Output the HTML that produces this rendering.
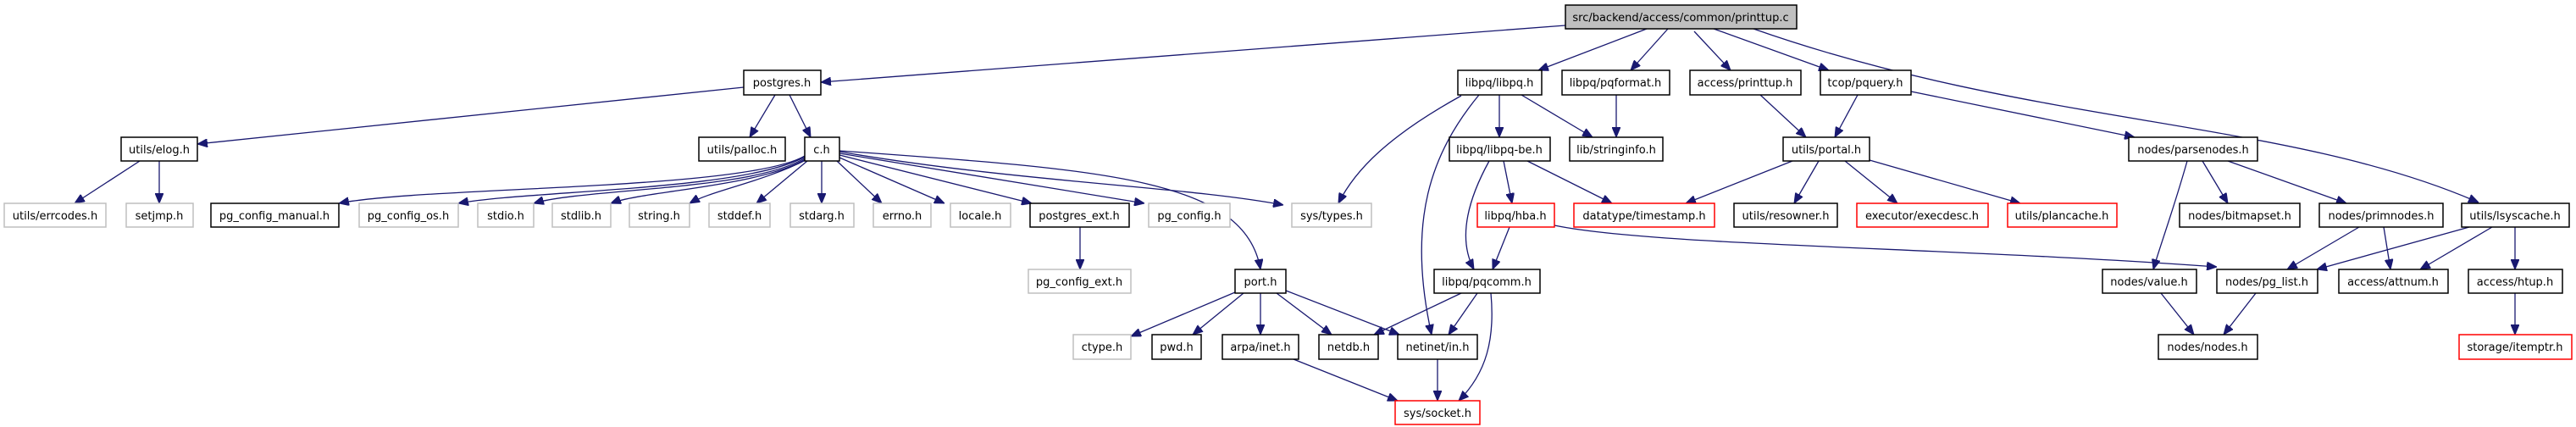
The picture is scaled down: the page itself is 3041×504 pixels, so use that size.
<!DOCTYPE html>
<html><head><meta charset="utf-8"><style>
html,body{margin:0;padding:0;background:#fff;}
svg{display:block}
text{font-family:"DejaVu Sans","Liberation Sans",sans-serif;font-size:13px;text-anchor:middle;fill:#000}
.b{fill:#fff;stroke:#000;stroke-width:1.5}
.g{fill:#fff;stroke:#bfbfbf;stroke-width:1.5}
.r{fill:#fff;stroke:#ff0000;stroke-width:1.5}
.e{fill:none;stroke:#191970;stroke-width:1.3;marker-end:url(#a)}
</style></head><body>
<svg width="3041" height="504" viewBox="0 0 3041 504" xmlns="http://www.w3.org/2000/svg">
<defs><marker id="a" markerUnits="userSpaceOnUse" markerWidth="12" markerHeight="10" refX="12" refY="5" orient="auto"><path d="M0,0 L12,5 L0,10 z" fill="#191970" stroke="#191970"/></marker></defs>
<!-- edges -->
<path class="e" d="M1848,30 L969,97"/>
<path class="e" d="M1944,34 L1816,83"/>
<path class="e" d="M1969,34 L1925,83"/>
<path class="e" d="M2000,37 L2043,83"/>
<path class="e" d="M2023,34 L2159,83"/>
<path class="e" d="M2070,34 C2400,150 2700,140 2926,239"/>
<path class="e" d="M878,103 L233,170"/>
<path class="e" d="M915,112 L885,162"/>
<path class="e" d="M932,112 L957,162"/>
<path class="e" d="M165,190 L88,240"/>
<path class="e" d="M188,190 L188,240"/>
<path class="e" d="M950,184 C880,225 500,220 400,240"/>
<path class="e" d="M950,185 C880,225 620,225 541,240"/>
<path class="e" d="M951,186 C890,225 690,222 630,240"/>
<path class="e" d="M952,187 C900,220 760,225 721,240"/>
<path class="e" d="M953,188 C900,215 840,225 814,240"/>
<path class="e" d="M953,190 L893,240"/>
<path class="e" d="M970,190 L970,240"/>
<path class="e" d="M988,190 L1041,240"/>
<path class="e" d="M991,186 L1115,240"/>
<path class="e" d="M991,183 L1218,240"/>
<path class="e" d="M991,181 L1351,240"/>
<path class="e" d="M991,179 C1200,215 1400,220 1515,242"/>
<path class="e" d="M991,178 C1300,200 1470,210 1488,318"/>
<path class="e" d="M1725,113 C1640,160 1600,200 1580,240"/>
<path class="e" d="M1746,112 C1690,180 1660,260 1690,395"/>
<path class="e" d="M1770,112 L1770,162"/>
<path class="e" d="M1796,112 L1880,162"/>
<path class="e" d="M1908,112 L1908,162"/>
<path class="e" d="M1775,190 L1785,240"/>
<path class="e" d="M1803,190 L1903,240"/>
<path class="e" d="M1758,190 C1725,250 1725,290 1740,318"/>
<path class="e" d="M1782,268 L1762,318"/>
<path class="e" d="M1835,266 C1950,290 2300,292 2617,315"/>
<path class="e" d="M1725,346 L1622,395"/>
<path class="e" d="M1744,346 L1710,395"/>
<path class="e" d="M1760,346 C1765,400 1755,440 1722,473"/>
<path class="e" d="M1458,345 L1335,397"/>
<path class="e" d="M1468,346 L1408,395"/>
<path class="e" d="M1488,346 L1488,395"/>
<path class="e" d="M1507,346 L1572,395"/>
<path class="e" d="M1518,343 L1652,395"/>
<path class="e" d="M1527,424 L1650,473"/>
<path class="e" d="M1697,424 L1697,473"/>
<path class="e" d="M1275,268 L1275,318"/>
<path class="e" d="M2078,112 L2132,162"/>
<path class="e" d="M2193,112 L2166,162"/>
<path class="e" d="M2256,108 L2520,162"/>
<path class="e" d="M2116,190 L1990,240"/>
<path class="e" d="M2147,190 L2118,240"/>
<path class="e" d="M2178,190 L2240,240"/>
<path class="e" d="M2207,189 L2385,240"/>
<path class="e" d="M2582,190 C2565,250 2550,290 2542,318"/>
<path class="e" d="M2600,190 L2630,240"/>
<path class="e" d="M2630,190 L2770,240"/>
<path class="e" d="M2785,268 L2700,318"/>
<path class="e" d="M2814,268 L2822,318"/>
<path class="e" d="M2915,268 L2735,318"/>
<path class="e" d="M2942,268 L2857,318"/>
<path class="e" d="M2969,268 L2969,318"/>
<path class="e" d="M2551,346 L2590,395"/>
<path class="e" d="M2663,346 L2625,395"/>
<path class="e" d="M2969,346 L2969,395"/>
<!-- nodes -->
<rect x="1848" y="6" width="273" height="28" fill="#bfbfbf" stroke="#000" stroke-width="1.5"/><text x="1984" y="25">src/backend/access/common/printtup.c</text>
<rect class="b" x="878" y="83" width="91" height="29"/><text x="923" y="102">postgres.h</text>
<rect class="b" x="1721" y="83" width="99" height="29"/><text x="1770" y="102">libpq/libpq.h</text>
<rect class="b" x="1844" y="83" width="127" height="29"/><text x="1907" y="102">libpq/pqformat.h</text>
<rect class="b" x="1995" y="83" width="131" height="29"/><text x="2060" y="102">access/printtup.h</text>
<rect class="b" x="2149" y="83" width="107" height="29"/><text x="2202" y="102">tcop/pquery.h</text>
<rect class="b" x="143" y="162" width="90" height="28"/><text x="188" y="181">utils/elog.h</text>
<rect class="b" x="825" y="162" width="102" height="28"/><text x="876" y="181">utils/palloc.h</text>
<rect class="b" x="950" y="162" width="41" height="28"/><text x="970" y="181">c.h</text>
<rect class="b" x="1711" y="162" width="119" height="28"/><text x="1770" y="181">libpq/libpq-be.h</text>
<rect class="b" x="1853" y="162" width="110" height="28"/><text x="1908" y="181">lib/stringinfo.h</text>
<rect class="b" x="2105" y="162" width="102" height="28"/><text x="2156" y="181">utils/portal.h</text>
<rect class="b" x="2513" y="162" width="152" height="28"/><text x="2589" y="181">nodes/parsenodes.h</text>
<rect class="g" x="5" y="240" width="120" height="28"/><text x="65" y="259">utils/errcodes.h</text>
<rect class="g" x="149" y="240" width="79" height="28"/><text x="188" y="259">setjmp.h</text>
<rect class="b" x="249" y="240" width="151" height="28"/><text x="324" y="259">pg_config_manual.h</text>
<rect class="g" x="424" y="240" width="117" height="28"/><text x="482" y="259">pg_config_os.h</text>
<rect class="g" x="564" y="240" width="66" height="28"/><text x="597" y="259">stdio.h</text>
<rect class="g" x="652" y="240" width="69" height="28"/><text x="686" y="259">stdlib.h</text>
<rect class="g" x="743" y="240" width="71" height="28"/><text x="778" y="259">string.h</text>
<rect class="g" x="837" y="240" width="72" height="28"/><text x="873" y="259">stddef.h</text>
<rect class="g" x="933" y="240" width="75" height="28"/><text x="970" y="259">stdarg.h</text>
<rect class="g" x="1031" y="240" width="68" height="28"/><text x="1065" y="259">errno.h</text>
<rect class="g" x="1122" y="240" width="71" height="28"/><text x="1157" y="259">locale.h</text>
<rect class="b" x="1216" y="240" width="117" height="28"/><text x="1274" y="259">postgres_ext.h</text>
<rect class="g" x="1356" y="240" width="96" height="28"/><text x="1404" y="259">pg_config.h</text>
<rect class="g" x="1525" y="240" width="94" height="28"/><text x="1572" y="259">sys/types.h</text>
<rect class="r" x="1744" y="240" width="91" height="28"/><text x="1789" y="259">libpq/hba.h</text>
<rect class="r" x="1858" y="240" width="166" height="28"/><text x="1941" y="259">datatype/timestamp.h</text>
<rect class="b" x="2047" y="240" width="122" height="28"/><text x="2108" y="259">utils/resowner.h</text>
<rect class="r" x="2192" y="240" width="155" height="28"/><text x="2269" y="259">executor/execdesc.h</text>
<rect class="r" x="2370" y="240" width="129" height="28"/><text x="2434" y="259">utils/plancache.h</text>
<rect class="b" x="2573" y="240" width="142" height="28"/><text x="2644" y="259">nodes/bitmapset.h</text>
<rect class="b" x="2738" y="240" width="146" height="28"/><text x="2811" y="259">nodes/primnodes.h</text>
<rect class="b" x="2906" y="240" width="127" height="28"/><text x="2969" y="259">utils/lsyscache.h</text>
<rect class="g" x="1214" y="318" width="121" height="28"/><text x="1274" y="337">pg_config_ext.h</text>
<rect class="b" x="1458" y="318" width="60" height="28"/><text x="1488" y="337">port.h</text>
<rect class="b" x="1693" y="318" width="125" height="28"/><text x="1755" y="337">libpq/pqcomm.h</text>
<rect class="b" x="2482" y="318" width="111" height="28"/><text x="2537" y="337">nodes/value.h</text>
<rect class="b" x="2617" y="318" width="119" height="28"/><text x="2676" y="337">nodes/pg_list.h</text>
<rect class="b" x="2761" y="318" width="129" height="28"/><text x="2825" y="337">access/attnum.h</text>
<rect class="b" x="2914" y="318" width="111" height="28"/><text x="2969" y="337">access/htup.h</text>
<rect class="g" x="1267" y="395" width="68" height="29"/><text x="1301" y="414">ctype.h</text>
<rect class="b" x="1360" y="395" width="58" height="29"/><text x="1389" y="414">pwd.h</text>
<rect class="b" x="1443" y="395" width="90" height="29"/><text x="1488" y="414">arpa/inet.h</text>
<rect class="b" x="1557" y="395" width="70" height="29"/><text x="1592" y="414">netdb.h</text>
<rect class="b" x="1650" y="395" width="94" height="29"/><text x="1697" y="414">netinet/in.h</text>
<rect class="b" x="2548" y="395" width="117" height="29"/><text x="2606" y="414">nodes/nodes.h</text>
<rect class="r" x="2903" y="395" width="133" height="29"/><text x="2969" y="414">storage/itemptr.h</text>
<rect class="r" x="1647" y="473" width="100" height="28"/><text x="1697" y="492">sys/socket.h</text>
</svg>
</body></html>
